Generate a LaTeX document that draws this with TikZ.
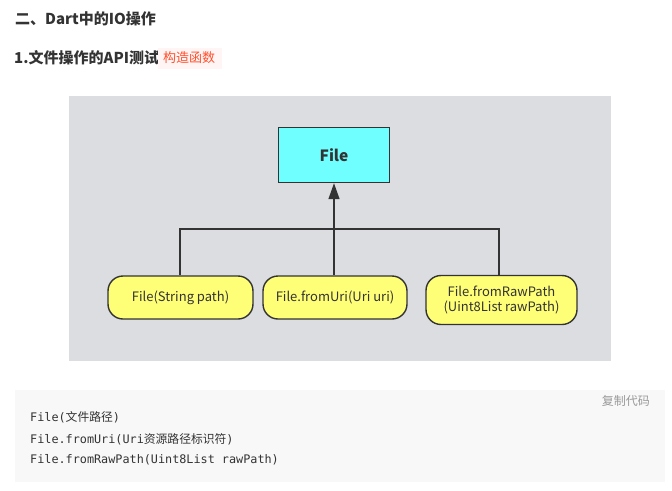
\documentclass[tikz,border=0pt]{standalone}
\usepackage{fontspec}
\setmainfont{Noto Sans CJK SC}
\newfontfamily\cjk{Noto Sans CJK SC}
\newfontfamily\mono{DejaVu Sans Mono}
\usetikzlibrary{arrows.meta}
\definecolor{txt}{HTML}{333333}
\definecolor{diagbg}{HTML}{DCDDE1}
\definecolor{cyanbox}{HTML}{70FFFF}
\definecolor{yel}{HTML}{FFFF77}
\definecolor{edge}{HTML}{333333}
\definecolor{codebg}{HTML}{F8F8F8}
\definecolor{red}{HTML}{FF502C}
\definecolor{pinkbg}{HTML}{FFF5F5}
\definecolor{copygray}{HTML}{999999}
\tikzset{
  heading/.style={anchor=west, text=txt, font=\fontsize{15}{17}\selectfont\bfseries, inner sep=0pt},
  classbox/.style={draw=edge, line width=1.4pt, fill=cyanbox, minimum width=111pt, minimum height=55pt, inner sep=0pt, font=\fontsize{15.5}{18}\selectfont\bfseries, text=txt},
  ctor/.style={draw=edge, line width=1.4pt, fill=yel, rounded corners=15pt, inner sep=0pt, font=\fontsize{13}{15.5}\selectfont, text=txt, align=center},
  link/.style={draw=edge, line width=1.4pt},
  codeline/.style={anchor=west, inner sep=0pt, text=txt, font=\fontsize{11.8}{13}\selectfont},
}
\begin{document}
\begin{tikzpicture}[x=1pt, y=-1pt]
\useasboundingbox (0,0) rectangle (672,490);
\fill[white] (0,0) rectangle (672,490);
% headings
\node[heading] (h1) at (15,19) {二、Dart中的IO操作};
\node[heading] (h2) at (14,58) {1.文件操作的API测试};
\fill[pinkbg] (158,48) rectangle (222,69);
\node[anchor=west, inner sep=0pt, text=red, font=\fontsize{13}{15}\selectfont] (tag) at (163,58) {构造函数};
% diagram
\fill[diagbg] (69,96) rectangle (611,361);
\node[classbox] (file) at (334,155) {File};
\node[ctor, minimum width=145pt, minimum height=43pt] (c1) at (180.5,297.5) {File(String path)};
\node[ctor, minimum width=144pt, minimum height=43pt] (c2) at (335,297.5) {File.fromUri(Uri uri)};
\node[ctor, minimum width=151pt, minimum height=49pt] (c3) at (501.5,300) {File.fromRawPath\\(Uint8List rawPath)};
\coordinate (j) at (334,229);
\draw[link] (c1.north -| 180,0) |- (j);
\draw[link] (c3.north -| 499,0) |- (j);
\draw[link] (c2.north -| 334,0) -- (j);
\draw[link, -{Triangle[length=16pt, width=11pt]}] (j) -- (file.south);
% code block
\fill[codebg] (15,390) rectangle (665,482);
\node[anchor=east, inner sep=0pt, text=copygray, font=\fontsize{12}{14}\selectfont] (copy) at (650,401) {复制代码};
\node[codeline] (l1) at (30,417) {\mono File(\cjk 文件路径\mono )};
\node[codeline] (l2) at (30,439) {\mono File.fromUri(Uri\cjk 资源路径标识符\mono )};
\node[codeline] (l3) at (30,460) {\mono File.fromRawPath(Uint8List rawPath)};
\end{tikzpicture}
\end{document}
